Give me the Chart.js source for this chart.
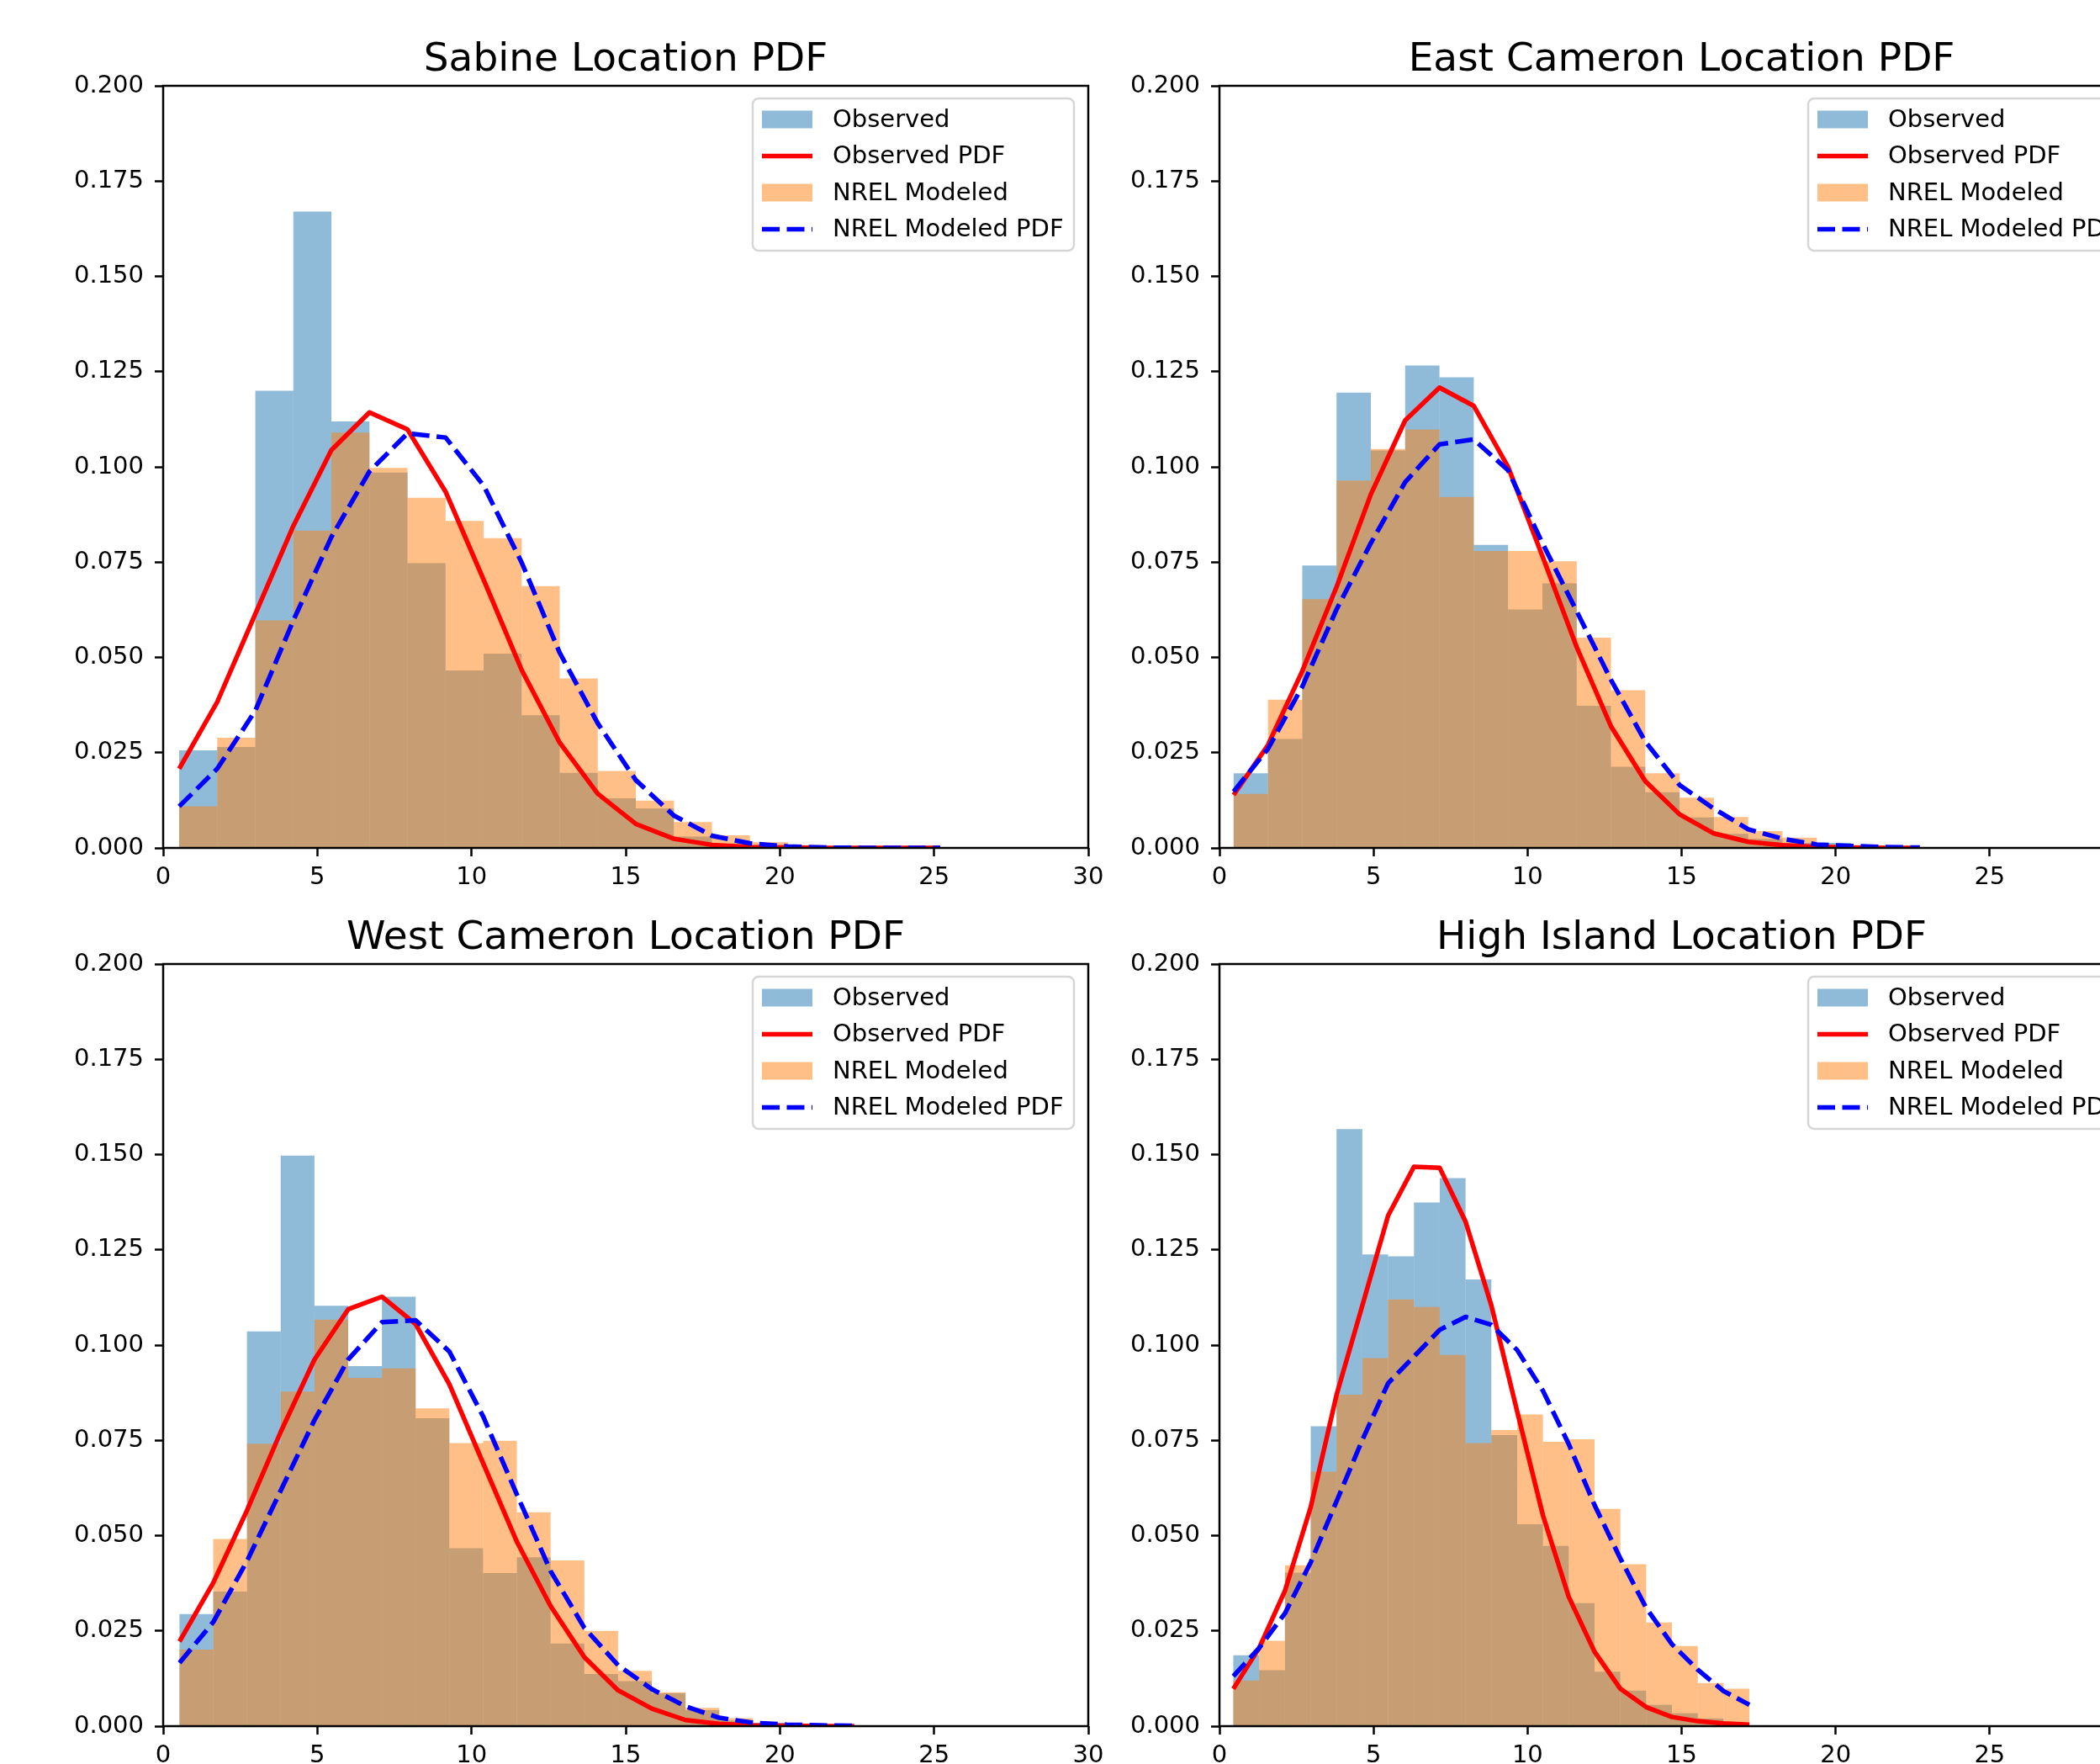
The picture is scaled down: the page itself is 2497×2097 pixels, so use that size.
<!DOCTYPE html>
<html>
<head>
<meta charset="utf-8">
<script src="https://cdn.jsdelivr.net/npm/chart.js@4.4.1/dist/chart.umd.min.js"></script>
<style>
  html, body { margin: 0; padding: 0; background: #fff; width: 2497px; height: 2097px; overflow: hidden; position: relative; }
  canvas { position: absolute; }
</style>
</head>
<body>
<script>
// 20 bins per panel, between the first and last bin edge
const binCount = 20;

// Sabine
const sabineRange = [0.52, 25.2];
const sabineObserved = [0.0256, 0.0265, 0.120, 0.167, 0.1119, 0.0985, 0.0747, 0.0466, 0.051, 0.0348, 0.0197, 0.013, 0.0104, 0.003, 0.0012, 0.0005, 0.0003, 0, 0, 0.0001];
const sabineModeled = [0.0109, 0.0289, 0.0597, 0.0833, 0.109, 0.0997, 0.0919, 0.0858, 0.0813, 0.0687, 0.0445, 0.0202, 0.0124, 0.0068, 0.0033, 0.0015, 0.0007, 0.0003, 0.0001, 0.0001];
const sabineObservedPdf = [0.0208, 0.0383, 0.0614, 0.0845, 0.1044, 0.1143, 0.1098, 0.0935, 0.0704, 0.0467, 0.0276, 0.0142, 0.0063, 0.0024, 0.0008, 0.0002, 0.0001, 0, 0, 0, 0];
const sabineModeledPdf = [0.0109, 0.0208, 0.036, 0.0597, 0.0816, 0.0988, 0.1088, 0.1077, 0.0951, 0.0749, 0.0512, 0.0327, 0.0178, 0.0085, 0.0032, 0.0012, 0.0004, 0.0001, 0, 0, 0];

// East Cameron
const eastRange = [0.46, 22.73];
const eastObserved = [0.0196, 0.0286, 0.0741, 0.1195, 0.1043, 0.1266, 0.1235, 0.0795, 0.0626, 0.0694, 0.0373, 0.0213, 0.0146, 0.008, 0.0037, 0.0024, 0.0013, 0.0013, 0.0005, 0.0003];
const eastModeled = [0.0142, 0.0389, 0.0653, 0.0964, 0.1047, 0.1098, 0.0921, 0.0779, 0.0779, 0.0752, 0.0552, 0.0414, 0.0196, 0.0132, 0.0081, 0.0044, 0.0027, 0.0009, 0.0005, 0.0003];
const eastObservedPdf = [0.0139, 0.027, 0.0464, 0.0685, 0.0928, 0.1122, 0.1208, 0.116, 0.100, 0.0766, 0.0527, 0.0319, 0.0175, 0.0088, 0.0038, 0.0016, 0.0007, 0.0003, 0.0001, 0, 0];
const eastModeledPdf = [0.0148, 0.026, 0.0423, 0.0626, 0.080, 0.096, 0.1059, 0.1072, 0.0991, 0.080, 0.0621, 0.0441, 0.0279, 0.0165, 0.0103, 0.0049, 0.0024, 0.0009, 0.0005, 0.0002, 0.0001];

// West Cameron
const westRange = [0.53, 22.41];
const westObserved = [0.0294, 0.0353, 0.1036, 0.1497, 0.1103, 0.0945, 0.1127, 0.0808, 0.0467, 0.0402, 0.0443, 0.0217, 0.0137, 0.0118, 0.0086, 0.0042, 0.0015, 0.0009, 0.0003, 0.0002];
const westModeled = [0.0201, 0.0491, 0.0741, 0.0878, 0.1067, 0.0914, 0.0939, 0.0834, 0.0743, 0.0749, 0.0561, 0.0435, 0.025, 0.0145, 0.0089, 0.0048, 0.0021, 0.0006, 0.0003, 0.0002];
const westObservedPdf = [0.0222, 0.0376, 0.0566, 0.0772, 0.0962, 0.1094, 0.1127, 0.1055, 0.0897, 0.069, 0.0484, 0.0315, 0.0181, 0.0094, 0.0046, 0.0016, 0.0006, 0.0002, 0.0001, 0, 0];
const westModeledPdf = [0.0166, 0.0273, 0.0433, 0.0618, 0.0803, 0.0962, 0.106, 0.1065, 0.0983, 0.0813, 0.0608, 0.0407, 0.0258, 0.016, 0.0097, 0.0052, 0.0022, 0.0009, 0.0004, 0.0002, 0.0001];

// High Island
const highRange = [0.45, 17.2];
const highObserved = [0.0186, 0.0147, 0.0403, 0.0787, 0.1567, 0.1238, 0.1233, 0.1374, 0.1438, 0.1172, 0.0764, 0.053, 0.0473, 0.0323, 0.0143, 0.0093, 0.0056, 0.0034, 0.002, 0.0007];
const highModeled = [0.012, 0.0224, 0.0422, 0.0668, 0.087, 0.0966, 0.112, 0.110, 0.0974, 0.0743, 0.0777, 0.0818, 0.0746, 0.0753, 0.057, 0.0425, 0.0272, 0.021, 0.0113, 0.0098];
const highObservedPdf = [0.0098, 0.0205, 0.0355, 0.0575, 0.0869, 0.1104, 0.134, 0.1468, 0.1465, 0.1324, 0.1104, 0.0826, 0.0553, 0.0339, 0.0195, 0.0098, 0.005, 0.0024, 0.0013, 0.0007, 0.0004];
const highModeledPdf = [0.0131, 0.0205, 0.0296, 0.043, 0.059, 0.0751, 0.090, 0.097, 0.104, 0.1074, 0.1053, 0.0987, 0.088, 0.074, 0.058, 0.044, 0.031, 0.0215, 0.0148, 0.0092, 0.0056];

const xTicks = { min: 0, max: 30, step: 5 };
const yTicks = { min: 0, max: 0.2, step: 0.025 };

const fontFamily = "'DejaVu Sans', sans-serif";
Chart.defaults.font.family = fontFamily;
Chart.defaults.color = '#000';

// plot area positions on the page
const panels = [
  { title: 'Sabine Location PDF', range: sabineRange, obs: sabineObserved, mod: sabineModeled, obsPdf: sabineObservedPdf, modPdf: sabineModeledPdf, left: 194, top: 102, width: 1100 },
  { title: 'East Cameron Location PDF', range: eastRange, obs: eastObserved, mod: eastModeled, obsPdf: eastObservedPdf, modPdf: eastModeledPdf, left: 1450, top: 102, width: 1099 },
  { title: 'West Cameron Location PDF', range: westRange, obs: westObserved, mod: westModeled, obsPdf: westObservedPdf, modPdf: westModeledPdf, left: 194, top: 1146, width: 1100 },
  { title: 'High Island Location PDF', range: highRange, obs: highObserved, mod: highModeled, obsPdf: highObservedPdf, modPdf: highModeledPdf, left: 1450, top: 1146, width: 1099 }
];

const yAxisWidth = 194, titleHeight = 102, xAxisHeight = 70, padRight = 46, plotHeight = 906;

function binEdges(range) {
  const step = (range[1] - range[0]) / binCount;
  return Array.from({ length: binCount + 1 }, (_, i) => range[0] + i * step);
}

// spines on all four sides, then a matplotlib style legend box in the upper right
const frameAndLegend = {
  id: 'frameAndLegend',
  afterDraw(chart) {
    const { ctx, chartArea: ca } = chart;
    ctx.save();
    ctx.strokeStyle = '#000';
    ctx.lineWidth = 2.5;
    ctx.strokeRect(ca.left, ca.top, ca.width, ca.height);

    const w = 382, h = 181;
    const x0 = ca.right - 17 - w, y0 = ca.top + 15;
    ctx.beginPath();
    ctx.roundRect(x0, y0, w, h, 7);
    ctx.fillStyle = 'rgba(255,255,255,0.8)';
    ctx.fill();
    ctx.strokeStyle = 'rgba(204,204,204,0.8)';
    ctx.lineWidth = 2.5;
    ctx.stroke();

    ctx.font = '29px ' + fontFamily;
    ctx.textBaseline = 'middle';
    ctx.textAlign = 'left';
    chart.data.datasets.forEach((ds, i) => {
      const cy = y0 + 25 + i * 43.5;
      if (ds.type === 'bar') {
        ctx.fillStyle = ds.backgroundColor;
        ctx.fillRect(x0 + 11, cy - 10.5, 60, 21);
      } else {
        ctx.beginPath();
        ctx.setLineDash(ds.borderDash || []);
        ctx.strokeStyle = ds.borderColor;
        ctx.lineWidth = ds.borderWidth;
        ctx.moveTo(x0 + 11, cy);
        ctx.lineTo(x0 + 71, cy);
        ctx.stroke();
        ctx.setLineDash([]);
      }
      ctx.fillStyle = '#000';
      ctx.fillText(ds.label, x0 + 95, cy + 1);
    });
    ctx.restore();
  }
};

panels.forEach(p => {
  const canvas = document.createElement('canvas');
  canvas.width = yAxisWidth + p.width + padRight;
  canvas.height = titleHeight + plotHeight + xAxisHeight;
  canvas.style.left = (p.left - yAxisWidth) + 'px';
  canvas.style.top = (p.top - titleHeight) + 'px';
  document.body.appendChild(canvas);

  const edges = binEdges(p.range);
  const centers = edges.slice(0, -1).map((e, i) => (e + edges[i + 1]) / 2);
  const histPoints = vals => vals.map((v, i) => ({ x: centers[i], y: v }));
  const pdfPoints = vals => vals.map((v, i) => ({ x: edges[i], y: v }));

  const barStyle = { type: 'bar', borderWidth: 0, grouped: false, barPercentage: 1, categoryPercentage: 1, inflateAmount: 0 };
  const lineStyle = { borderWidth: 5.5, pointRadius: 0, fill: false, tension: 0, borderJoinStyle: 'round', borderCapStyle: 'butt' };
  const tickGrid = { offset: false, drawOnChartArea: false, drawTicks: true, tickLength: 10, tickWidth: 2.5, tickColor: '#000' };

  new Chart(canvas, {
    type: 'line',
    data: {
      datasets: [
        { ...barStyle, label: 'Observed', data: histPoints(p.obs), backgroundColor: 'rgba(31,119,180,0.5)', order: 4 },
        { ...lineStyle, label: 'Observed PDF', data: pdfPoints(p.obsPdf), borderColor: '#ff0000', order: 2 },
        { ...barStyle, label: 'NREL Modeled', data: histPoints(p.mod), backgroundColor: 'rgba(255,127,14,0.5)', order: 3 },
        { ...lineStyle, label: 'NREL Modeled PDF', data: pdfPoints(p.modPdf), borderColor: '#0000ff', borderDash: [21, 8.5], order: 1 }
      ]
    },
    options: {
      responsive: false,
      animation: false,
      devicePixelRatio: 1,
      layout: { padding: { left: 0, right: padRight, top: 0, bottom: 0 } },
      plugins: {
        legend: { display: false },
        tooltip: { enabled: false },
        title: {
          display: true,
          text: p.title,
          fullSize: false,
          color: '#000',
          font: { size: 47, weight: 'normal' },
          padding: { top: 44, bottom: 1.6 }
        }
      },
      scales: {
        x: {
          type: 'linear',
          min: xTicks.min,
          max: xTicks.max,
          offset: false,
          afterFit: s => { s.height = xAxisHeight; },
          ticks: { stepSize: xTicks.step, padding: 8, maxRotation: 0, autoSkip: false, font: { size: 29 }, color: '#000' },
          grid: tickGrid,
          border: { display: false }
        },
        y: {
          min: yTicks.min,
          max: yTicks.max,
          afterFit: s => { s.width = yAxisWidth; },
          ticks: { stepSize: yTicks.step, padding: 13, autoSkip: false, font: { size: 29 }, color: '#000', callback: v => v.toFixed(3) },
          grid: tickGrid,
          border: { display: false }
        }
      }
    },
    plugins: [frameAndLegend]
  });
});
</script>
</body>
</html>
